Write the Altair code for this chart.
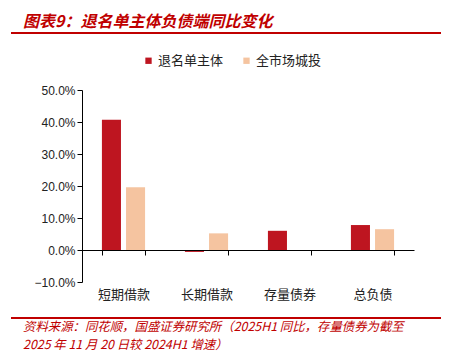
import altair as alt
import pandas as pd

categories = ["短期借款", "长期借款", "存量债券", "总负债"]
series = ["退名单主体", "全市场城投"]
exit_list = [0.407, -0.006, 0.060, 0.078]
market = [0.196, 0.052, -0.001, 0.065]
y_ticks = [-0.1, 0.0, 0.1, 0.2, 0.3, 0.4, 0.5]
colors = ["#BE1520", "#F5C4A0"]

title_text = "图表9：退名单主体负债端同比变化"
source_line1 = "资料来源：同花顺，国盛证券研究所（2025H1 同比，存量债券为截至"
source_line2 = "2025 年 11 月 20 日较 2024H1 增速）"

rows = []
for c, a, b in zip(categories, exit_list, market):
    rows.append({"category": c, "series": series[0], "value": a})
    rows.append({"category": c, "series": series[1], "value": b})
df = pd.DataFrame(rows)

W, H = 332, 192
FONT = "Noto Sans CJK SC"

bars = alt.Chart(df).mark_bar().encode(
    x=alt.X(
        "category:N", sort=categories,
        scale=alt.Scale(paddingInner=0.48, paddingOuter=0.24),
        axis=alt.Axis(title=None, offset=-32, domainColor="#000", tickColor="#000",
                      tickSize=5, labelPadding=33, labelAngle=0, labelFont=FONT,
                      labelFontSize=13, labelColor="#222", tickBand="extent", zindex=1),
    ),
    xOffset=alt.XOffset("series:N", sort=series, scale=alt.Scale(paddingInner=0.21)),
    y=alt.Y(
        "value:Q",
        scale=alt.Scale(domain=[-0.1, 0.5], nice=False, zero=False),
        axis=alt.Axis(title=None, format=".1%", values=y_ticks, grid=False,
                      domainColor="#000", tickColor="#000", tickSize=5,
                      labelFont="Liberation Sans", labelFontSize=12, labelColor="#222"),
    ),
    color=alt.Color(
        "series:N", sort=series,
        scale=alt.Scale(domain=series, range=colors),
        legend=alt.Legend(orient="none", legendX=60, legendY=-36, direction="horizontal",
                          title=None, symbolType="square", symbolSize=40,
                          symbolStrokeWidth=0, labelFont=FONT, labelFontSize=13,
                          labelOffset=3, labelColor="#222", columnPadding=16),
    ),
)

title = alt.Chart(pd.DataFrame({"t": [title_text]})).mark_text(
    align="left", baseline="alphabetic", font=FONT, fontSize=16, fontWeight="bold",
    fontStyle="italic", color="#C00000",
).encode(text="t:N", x=alt.value(-59), y=alt.value(-63))

src1 = alt.Chart(pd.DataFrame({"t": [source_line1]})).mark_text(
    align="left", baseline="middle", font=FONT, fontSize=12.4, fontStyle="italic",
    color="#C00000",
).encode(text="t:N", x=alt.value(-59), y=alt.value(236.5))

src2 = alt.Chart(pd.DataFrame({"t": [source_line2]})).mark_text(
    align="left", baseline="middle", font=FONT, fontSize=12.4, fontStyle="italic",
    color="#C00000",
).encode(text="t:N", x=alt.value(-59), y=alt.value(254.5))

rule_top = alt.Chart(pd.DataFrame({"a": [0]})).mark_rule(color="#C00000", strokeWidth=2).encode(
    x=alt.value(-71), x2=alt.value(359), y=alt.value(-57))
rule_bot = alt.Chart(pd.DataFrame({"a": [0]})).mark_rule(color="#C00000", strokeWidth=2).encode(
    x=alt.value(-71), x2=alt.value(359), y=alt.value(228))
# invisible spacer that fixes the top of the layout above the title
spacer = alt.Chart(pd.DataFrame({"a": [0]})).mark_rule(opacity=0, strokeWidth=1).encode(
    x=alt.value(-71), x2=alt.value(0), y=alt.value(-82))

chart = alt.layer(bars, title, src1, src2, rule_top, rule_bot, spacer).properties(
    width=W, height=H, padding={"left": 2, "top": 0, "right": 0, "bottom": 0}
).configure_view(stroke=None)

chart.save("out.html", embed_options={"renderer": "svg", "actions": False})
